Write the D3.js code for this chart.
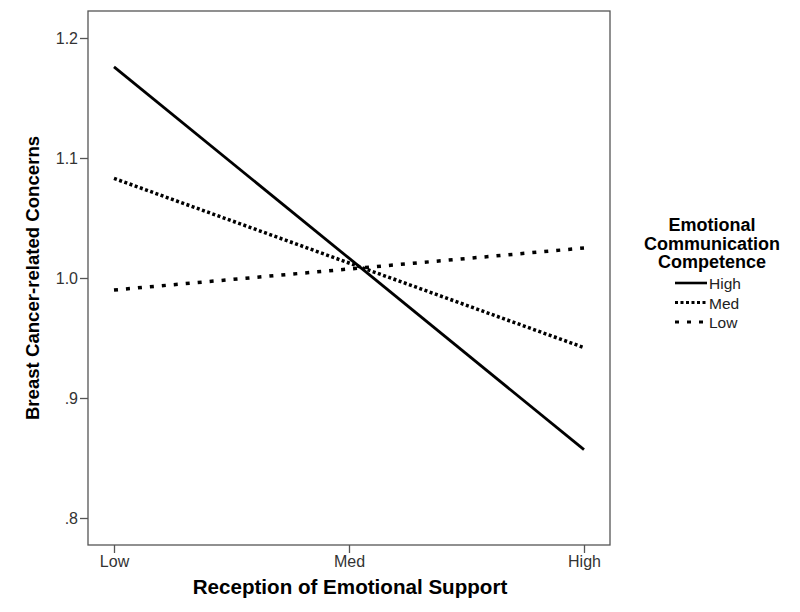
<!DOCTYPE html>
<html>
<head>
<meta charset="utf-8">
<script src="https://cdn.jsdelivr.net/npm/d3@7"></script>
<style>
body { margin: 0; background: #fff; }
text { font-family: "Liberation Sans", Arial, sans-serif; }
</style>
</head>
<body>
<div class="chart"></div>
<script>
// reception of emotional support levels
const support = ["Low", "Med", "High"];
// competence groups and their predicted concerns
const groups = ["High", "Med", "Low"];
const highVals = [1.176, 1.0165, 0.857];
const medVals = [1.083, 1.0125, 0.942];
const lowVals = [0.990, 1.0075, 1.025];
const yTicks = [0.8, 0.9, 1.0, 1.1, 1.2];
const yTickLabels = [".8", ".9", "1.0", "1.1", "1.2"];

const width = 800;
const height = 612;
const plotLeft = 88, plotRight = 610, plotTop = 11, plotBottom = 545;

const svg = d3.select('.chart')
    .append('svg')
    .attr('width', width)
    .attr('height', height)

const x = d3.scalePoint()
    .domain(support)
    .range([114, 584])

const y = d3.scaleLinear()
    .domain([0.7775, 1.2225])
    .range([plotBottom, plotTop])

// frame
svg.append("rect")
    .attr("x", plotLeft)
    .attr("y", plotTop)
    .attr("width", plotRight - plotLeft)
    .attr("height", plotBottom - plotTop)
    .attr("fill", "none")
    .attr("stroke", "#555")
    .attr("stroke-width", 1.3)

const yAxis = svg.append("g")
    .attr("transform", "translate(" + plotLeft + ",0)")
    .call(d3.axisLeft(y).tickValues(yTicks)
        .tickFormat((d, i) => yTickLabels[i])
        .tickSize(8).tickPadding(2))
yAxis.select(".domain").remove()
yAxis.selectAll("line").attr("stroke", "#555").attr("stroke-width", 1.3)
yAxis.selectAll("text").attr("font-size", 16).attr("fill", "#333")
    .style("font-family", "'Liberation Sans', Arial, sans-serif")

const xAxis = svg.append("g")
    .attr("transform", "translate(0," + plotBottom + ")")
    .call(d3.axisBottom(x).tickSize(8).tickPadding(3))
xAxis.select(".domain").remove()
xAxis.selectAll("line").attr("stroke", "#555").attr("stroke-width", 1.3)
xAxis.selectAll("text").attr("font-size", 16).attr("fill", "#333")
    .style("font-family", "'Liberation Sans', Arial, sans-serif")

// axis titles
svg.append("text")
    .text("Reception of Emotional Support")
    .attr("x", 350)
    .attr("y", 594)
    .attr("text-anchor", "middle")
    .attr("font-size", 20.6)
    .attr("font-weight", "bold")

svg.append("text")
    .text("Breast Cancer-related Concerns")
    .attr("transform", "translate(39,278) rotate(-90)")
    .attr("text-anchor", "middle")
    .attr("font-size", 18.6)
    .attr("font-weight", "bold")

const series = [
    { name: groups[0], values: highVals, dash: null },
    { name: groups[1], values: medVals, dash: "3,2.5" },
    { name: groups[2], values: lowVals, dash: "4,8" }
];

const line = d3.line()
    .x((d, i) => x(support[i]))
    .y(d => y(d))

svg.selectAll(".series")
    .data(series)
    .enter()
    .append("path")
    .attr("class", "series")
    .attr("d", d => line(d.values))
    .attr("fill", "none")
    .attr("stroke", "#000")
    .attr("stroke-width", d => d.dash ? 3.5 : 2.8)
    .attr("stroke-dasharray", d => d.dash)

// legend
const legTitle = ["Emotional", "Communication", "Competence"];
svg.selectAll(".legtitle")
    .data(legTitle)
    .enter()
    .append("text")
    .attr("class", "legtitle")
    .text(d => d)
    .attr("x", 712)
    .attr("y", (d, i) => 231 + i * 18.5)
    .attr("text-anchor", "middle")
    .attr("font-size", 18)
    .attr("font-weight", "bold")

const leg = svg.selectAll(".leg")
    .data(series)
    .enter()
    .append("g")
    .attr("class", "leg")
    .attr("transform", (d, i) => "translate(0," + (283 + i * 19.5) + ")")

leg.append("line")
    .attr("x1", 675)
    .attr("x2", 707)
    .attr("y1", 0)
    .attr("y2", 0)
    .attr("stroke", "#000")
    .attr("stroke-width", d => d.dash ? 3 : 2.6)
    .attr("stroke-dasharray", d => d.dash)

leg.append("text")
    .text(d => d.name)
    .attr("x", 709)
    .attr("y", 6)
    .attr("font-size", 15.5)
    .attr("fill", "#222")
</script>
</body>
</html>
